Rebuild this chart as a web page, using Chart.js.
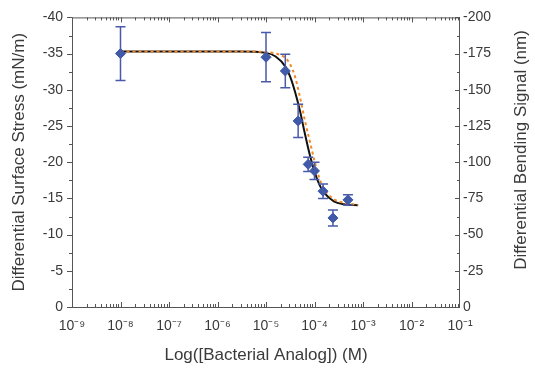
<!DOCTYPE html>
<html lang="en">
<head>
<meta charset="UTF-8">
<title>Differential Surface Stress</title>
<script src="https://cdn.jsdelivr.net/npm/chart.js"></script>
<style>
    body { margin: 0; background: #fff; }
    #wrap { width: 535px; height: 369px; }
</style>
</head>
<body>
<div id="wrap"><canvas id="chart" width="535" height="369"></canvas></div>
<script>
// measured points (M, mN/m) with error bars
const concM = [1e-8, 1e-5, 2.5e-5, 4.6e-5, 7.4e-5, 1.0e-4, 1.5e-4, 2.4e-4, 4.9e-4];
const stress = [-35.0, -34.5, -32.6, -25.7, -19.7, -18.8, -16.0, -12.3, -14.8];
const stressErr = [3.7, 3.4, 2.3, 2.3, 1.0, 1.2, 1.0, 1.1, 0.7];

// fitted curves
const fitX = [1e-8, 1e-6, 3e-6, 1e-5, 1.58e-5, 2.51e-5, 3.16e-5, 3.98e-5, 5.01e-5, 6.31e-5, 7.94e-5, 1.0e-4, 1.26e-4, 1.58e-4, 2.51e-4, 3.98e-4, 7.94e-4];
const blackFit = [-35.3, -35.3, -35.3, -35.1, -34.6, -33.2, -31.8, -29.7, -27.1, -24.0, -21.1, -18.7, -16.9, -15.8, -14.6, -14.2, -14.05];
const orangeFit = [-35.3, -35.3, -35.3, -35.2, -35.0, -34.4, -33.5, -31.8, -29.0, -25.8, -23.0, -20.2, -17.8, -16.3, -14.9, -14.4, -14.1];

const xTicks = [1e-9, 1e-8, 1e-7, 1e-6, 1e-5, 1e-4, 1e-3, 1e-2, 1e-1];
const supers = {"-": "\u207B", "0": "\u2070", "1": "\u00B9", "2": "\u00B2", "3": "\u00B3", "4": "\u2074", "5": "\u2075", "6": "\u2076", "7": "\u2077", "8": "\u2078", "9": "\u2079"};
const rightTitle = "Differential Bending Signal (nm)";

const textColor = "#3a3a3a";
const axisColor = "#555";
const family = "Arial, 'Liberation Sans', sans-serif";
const tickFont = { family: family, size: 14 };
const titleFont = { family: family, size: 17 };

function pts(xs, ys) { return xs.map((x, i) => ({ x: x, y: ys[i] })); }

// error bars, ticks, frame and right title
const extras = {
    id: "extras",
    afterDatasetsDraw(chart) {
        const ctx = chart.ctx, xs = chart.scales.x, ys = chart.scales.y;
        ctx.save();
        ctx.strokeStyle = "#4a5aa8";
        ctx.lineWidth = 1.5;
        concM.forEach((c, i) => {
            const px = xs.getPixelForValue(c);
            const top = ys.getPixelForValue(stress[i] - stressErr[i]);
            const bot = ys.getPixelForValue(stress[i] + stressErr[i]);
            ctx.beginPath();
            ctx.moveTo(px, top); ctx.lineTo(px, bot);
            ctx.moveTo(px - 5, top); ctx.lineTo(px + 5, top);
            ctx.moveTo(px - 5, bot); ctx.lineTo(px + 5, bot);
            ctx.stroke();
        });
        ctx.restore();
    },
    afterDraw(chart) {
        const ctx = chart.ctx, a = chart.chartArea;
        const xs = chart.scales.x, ys = chart.scales.y;
        ctx.save();
        ctx.strokeStyle = axisColor;
        ctx.lineWidth = 1;
        ctx.strokeRect(a.left + 0.5, a.top + 0.5, a.right - a.left - 1, a.bottom - a.top);
        ctx.beginPath();
        for (let d = -9; d < -1; d++) {
            for (let m = 1; m <= 9; m++) {
                const px = Math.round(xs.getPixelForValue(m * Math.pow(10, d))) + 0.5;
                const len = m === 1 ? 5 : 3;
                ctx.moveTo(px, a.bottom); ctx.lineTo(px, a.bottom - len);
                ctx.moveTo(px, a.top); ctx.lineTo(px, a.top + len);
            }
        }
        for (let v = 0; v >= -40; v -= 2.5) {
            const py = Math.round(ys.getPixelForValue(v)) + 0.5;
            const len = (v % 5 === 0) ? 5 : 3;
            ctx.moveTo(a.left, py); ctx.lineTo(a.left - len, py);
            ctx.moveTo(a.right, py); ctx.lineTo(a.right - len, py);
        }
        ctx.stroke();

        ctx.fillStyle = textColor;
        ctx.font = titleFont.size + "px " + family;
        ctx.textAlign = "center";
        ctx.textBaseline = "middle";
        ctx.translate(521, 150);
        ctx.rotate(-Math.PI / 2);
        ctx.fillText(rightTitle, 0, 0);
        ctx.restore();
    }
};

new Chart(document.getElementById("chart"), {
    type: "scatter",
    data: {
        datasets: [
            {
                label: "fit",
                data: pts(fitX, blackFit),
                showLine: true,
                borderColor: "#111",
                borderWidth: 2,
                pointRadius: 0,
                cubicInterpolationMode: "monotone",
                order: 3
            },
            {
                label: "fit 2",
                data: pts(fitX, orangeFit),
                showLine: true,
                borderColor: "#ee8a2c",
                borderWidth: 2,
                borderDash: [3, 3],
                pointRadius: 0,
                cubicInterpolationMode: "monotone",
                order: 2
            },
            {
                label: "data",
                data: pts(concM, stress),
                pointStyle: "rectRot",
                pointRadius: 5,
                backgroundColor: "#3d5aa8",
                borderColor: "#3d5aa8",
                order: 1
            }
        ]
    },
    options: {
        responsive: false,
        animation: false,
        layout: { padding: { top: 15, left: 0, right: 0, bottom: 0 } },
        plugins: { legend: { display: false }, tooltip: { enabled: false } },
        scales: {
            x: {
                type: "logarithmic",
                min: 1e-9, max: 1e-1,
                afterBuildTicks: s => { s.ticks = xTicks.map(v => ({ value: v })); },
                afterFit: s => { s.height = 62; },
                grid: { display: false, drawTicks: false },
                border: { display: false },
                ticks: {
                    color: textColor, font: tickFont, padding: 11, maxRotation: 0, autoSkip: false,
                    callback: v => "10" + String(Math.round(Math.log10(v))).split("").map(ch => supers[ch]).join("")
                },
                title: { display: true, text: "Log([Bacterial Analog]) (M)", color: textColor, font: titleFont, padding: { top: 4, bottom: 3 } }
            },
            y: {
                position: "left",
                min: -40, max: 0, reverse: true,
                afterFit: s => { s.width = 72; },
                grid: { display: false, drawTicks: false },
                border: { display: false },
                ticks: { stepSize: 5, color: textColor, font: tickFont, padding: 9 },
                title: { display: true, text: "Differential Surface Stress (mN/m)", color: textColor, font: titleFont, padding: { top: 9, bottom: 0 } }
            },
            y2: {
                position: "right",
                min: -200, max: 0, reverse: true,
                afterFit: s => { s.width = 75; },
                grid: { display: false, drawTicks: false },
                border: { display: false },
                ticks: { stepSize: 25, color: textColor, font: tickFont, padding: 3 }
            }
        }
    },
    plugins: [extras]
});
</script>
</body>
</html>
